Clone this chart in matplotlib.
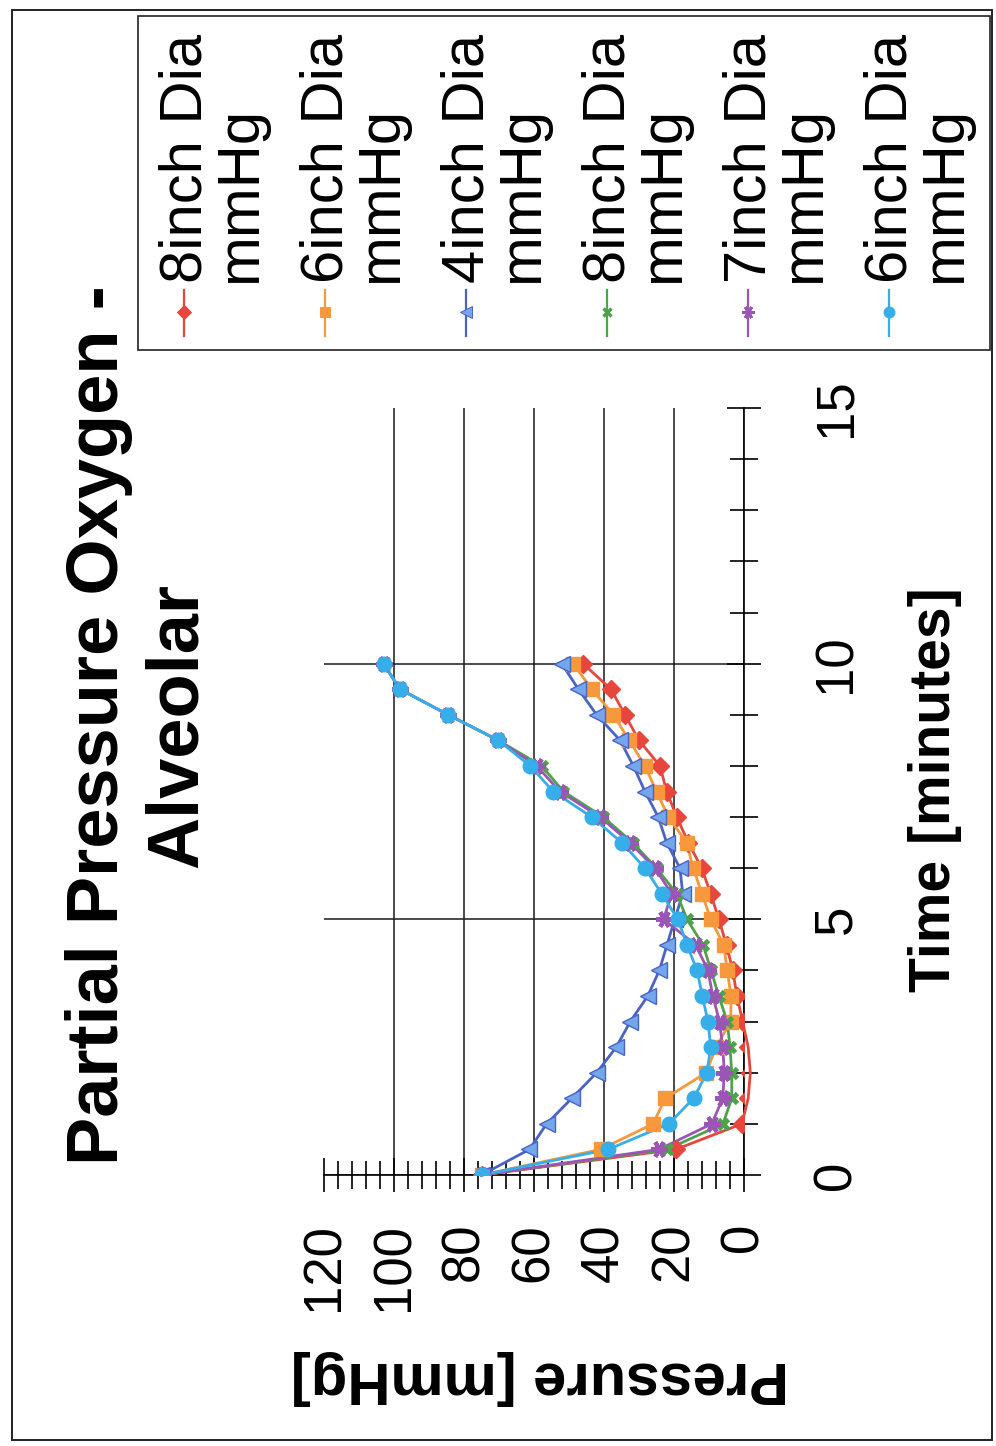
import matplotlib
matplotlib.use('Agg')
import matplotlib.pyplot as plt
from matplotlib.lines import Line2D
from matplotlib.patches import Rectangle
from matplotlib.ticker import MultipleLocator

plt.rcParams['font.family'] = ['Liberation Sans', 'DejaVu Sans']

# time axis, minutes (every half minute)
time_min = [0, 0.5, 1, 1.5, 2, 2.5, 3, 3.5, 4, 4.5, 5,
            5.5, 6, 6.5, 7, 7.5, 8, 8.5, 9, 9.5, 10]

# partial pressure of oxygen, mmHg
p_8in_a = [75, 19.5, 0.6, -1.2, -1.8, -1.2, 0.4, 2.0, 3.2, 5.0, 7.2,
           9.5, 12.1, 15.9, 19.2, 22.1, 24.0, 30.0, 34.0, 38.0, 46.0]
p_6in_a = [75, 41.0, 26.0, 22.5, 10.8, 8.0, 3.8, 3.7, 4.8, 5.8, 9.5,
           12.0, 14.5, 16.4, 21.6, 25.0, 28.3, 32.8, 37.3, 43.5, 48.8]
p_4in = [75, 61.3, 56.4, 49.2, 42.1, 36.5, 32.5, 27.5, 24.2, 22.0, 19.8,
         17.5, 18.3, 22.1, 24.5, 28.3, 31.6, 35.4, 42.1, 47.3, 52.1]
p_8in_b = [75, 22.0, 6.0, 3.5, 3.5, 4.0, 4.8, 7.2, 9.4, 11.7, 16.3,
           19.2, 25.0, 31.8, 40.2, 51.6, 57.8, 70.2, 84.5, 98.3, 103.0]
p_7in = [75, 24.3, 9.2, 6.1, 5.6, 6.1, 7.0, 8.9, 10.3, 13.8, 23.0,
         20.7, 25.4, 32.6, 41.1, 52.6, 59.2, 70.2, 84.5, 98.3, 103.0]
p_6in_b = [75, 38.8, 21.5, 14.4, 10.6, 9.5, 10.3, 11.9, 13.4, 16.3, 18.9,
           23.5, 28.3, 34.9, 43.5, 54.5, 61.1, 70.2, 84.5, 98.3, 103.0]

labels = ['8inch Dia\nmmHg', '6inch Dia\nmmHg', '4inch Dia\nmmHg',
          '8inch Dia\nmmHg', '7inch Dia\nmmHg', '6inch Dia\nmmHg']
series = [p_8in_a, p_6in_a, p_4in, p_8in_b, p_7in, p_6in_b]

# style per series: line colour, marker, marker face, marker size, edge width
styles = [
    dict(color='#E6463C', marker='D', mfc='#E6463C', ms=9, mew=1.0),
    dict(color='#F7983C', marker='s', mfc='#F7983C', ms=9.5, mew=1.0),
    dict(color='#4A63C6', marker='<', mfc='#74A6EC', ms=11, mew=1.0),
    dict(color='#4EA24A', marker='x', mfc='#4EA24A', ms=7, mew=3.5),
    dict(color='#9B55B4', marker=(6, 2, 90), mfc='#9B55B4', ms=12, mew=3.0),
    dict(color='#35AEEA', marker='o', mfc='#35AEEA', ms=10.5, mew=1.0),
]

W, H = 996, 1446


def fx(x):
    return x / W


def fy(y):
    return 1 - y / H


fig = plt.figure(figsize=(W / 100, H / 100), dpi=100)

# page is scanned sideways: pressure runs right-to-left, time runs upward
ax = fig.add_axes([fx(324), fy(1175), fx(744) - fx(324), fy(408) - fy(1175)])
ax.set_xlim(120, 0)
ax.set_ylim(0, 15)

for vals, st in zip(series, styles):
    ax.plot(vals, time_min, color=st['color'], lw=2.0, clip_on=False, zorder=3)
    ax.plot(vals, time_min, ls='none', marker=st['marker'], ms=st['ms'],
            mfc=st['mfc'], mec=st['color'], mew=st['mew'], zorder=4)

ax.xaxis.set_major_locator(MultipleLocator(20))
ax.xaxis.set_minor_locator(MultipleLocator(4))
ax.yaxis.set_major_locator(MultipleLocator(5))
ax.yaxis.set_minor_locator(MultipleLocator(1))
ax.yaxis.tick_right()

for side in ['left', 'top']:
    ax.spines[side].set_visible(False)
for side in ['right', 'bottom']:
    ax.spines[side].set_linewidth(1.2)

ax.tick_params(which='major', direction='inout', length=25, width=1.2,
               labelsize=38, labelrotation=90)
ax.tick_params(which='minor', direction='inout', length=20, width=1.2)
ax.tick_params(axis='x', which='major', pad=22)
ax.tick_params(axis='y', which='major', pad=36)

ax.grid(True, which='major', color='#1a1a1a', lw=1.1)
ax.set_axisbelow(True)
fig.canvas.draw()
for loc, tick in zip(ax.get_xticks(), ax.xaxis.get_major_ticks()):
    if loc >= 120:
        tick.gridline.set_visible(False)
for loc, tick in zip(ax.get_yticks(), ax.yaxis.get_major_ticks()):
    if loc >= 15:
        tick.gridline.set_visible(False)
for lab in ax.get_yticklabels():
    lab.set_va('center')

# titles and axis labels, all turned with the page
fig.text(fx(138), fy(725), 'Partial Pressure Oxygen -\nAlveolar', rotation=90,
         ha='center', va='center', ma='center', fontsize=52,
         fontweight='bold', linespacing=1.2)
fig.text(fx(935), fy(790), 'Time [minutes]', rotation=90, ha='center',
         va='center', fontsize=41, fontweight='bold')
fig.text(fx(540), fy(1378), 'Pressure [mmHg]', rotation=180, ha='center',
         va='center', fontsize=43, fontweight='bold')

# legend box drawn by hand so its entries can be rotated
fig.add_artist(Rectangle((fx(138), fy(350)), fx(990) - fx(138),
                         fy(16) - fy(350), transform=fig.transFigure,
                         fill=False, ec='#222222', lw=1.2))
for i, (lab, st) in enumerate(zip(labels, styles)):
    x0 = 184 + 141 * i
    fig.add_artist(Line2D([fx(x0), fx(x0)], [fy(290), fy(336)],
                          transform=fig.transFigure, color=st['color'], lw=1.6))
    fig.add_artist(Line2D([fx(x0)], [fy(312)], transform=fig.transFigure,
                          ls='none', marker=st['marker'], ms=st['ms'] * 0.75,
                          mfc=st['mfc'], mec=st['color'], mew=st['mew'] * 0.7))
    fig.text(fx(x0 - 26), fy(283), lab, rotation=90, ha='left', va='bottom',
             ma='left', fontsize=43, linespacing=1.0)

# page border
fig.add_artist(Rectangle((fx(12), fy(1440)), fx(992) - fx(12),
                         fy(10) - fy(1440), transform=fig.transFigure,
                         fill=False, ec='#222222', lw=1.4))

fig.savefig('out.png', dpi=100)
